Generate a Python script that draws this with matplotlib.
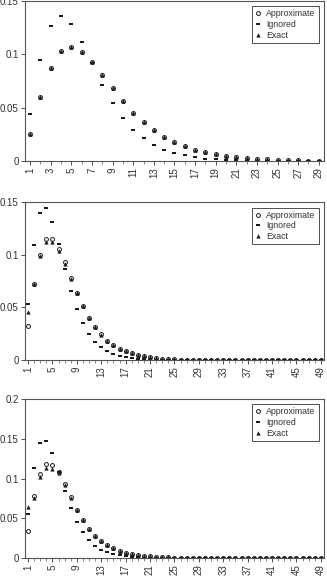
import numpy as np
import matplotlib.pyplot as plt
from matplotlib.path import Path

plt.rcParams['font.family'] = ['Liberation Sans', 'DejaVu Sans']

# panel 1 (n = 29)
x1 = list(range(1, 30))
approx1 = [0.0255, 0.0596, 0.0873, 0.1031, 0.1071, 0.1025, 0.0929, 0.0807, 0.0680, 0.0562,
           0.0453, 0.0363, 0.0289, 0.0227, 0.0177, 0.0140, 0.0106, 0.0081, 0.0062, 0.0050,
           0.0037, 0.0028, 0.0020, 0.0015, 0.0011, 0.0008, 0.0006, 0.0004, 0.0003]
ignored1 = [0.0440, 0.0944, 0.1267, 0.1360, 0.1283, 0.1115, 0.0916, 0.0714, 0.0543, 0.0404,
            0.0292, 0.0211, 0.0149, 0.0102, 0.0075, 0.0053, 0.0034, 0.0022, 0.0015, 0.0010,
            0.0006, 0.0004, 0.0002, 0.0001, 0.0001, 0.0, 0.0, 0.0, 0.0]
exact1 = [0.0255, 0.0596, 0.0873, 0.1031, 0.1071, 0.1025, 0.0925, 0.0807, 0.0680, 0.0562,
          0.0453, 0.0363, 0.0289, 0.0227, 0.0177, 0.0140, 0.0106, 0.0081, 0.0062, 0.0050,
          0.0037, 0.0028, 0.0020, 0.0015, 0.0011, 0.0008, 0.0006, 0.0004, 0.0003]

# panel 2 (n = 49)
x2 = list(range(1, 50))
approx2 = [0.0323, 0.0722, 0.1003, 0.1149, 0.1149, 0.1060, 0.0937, 0.0782, 0.0639, 0.0513,
           0.0402, 0.0313, 0.0244, 0.0184, 0.0142, 0.0108, 0.0082, 0.0063, 0.0047, 0.0035,
           0.0025, 0.0018, 0.0013, 0.0010, 0.0007, 0.0005, 0.0004, 0.0003, 0.0002, 0.0002,
           0.0001, 0.0001, 0.0001, 0.0, 0.0, 0.0, 0.0, 0.0, 0.0, 0.0,
           0.0, 0.0, 0.0, 0.0, 0.0, 0.0, 0.0, 0.0, 0.0]
ignored2 = [0.0532, 0.1090, 0.1400, 0.1450, 0.1313, 0.1100, 0.0867, 0.0658, 0.0487, 0.0348,
            0.0247, 0.0171, 0.0120, 0.0082, 0.0057, 0.0041, 0.0028, 0.0019, 0.0013, 0.0008,
            0.0005, 0.0003, 0.0002, 0.0001, 0.0001, 0.0, 0.0, 0.0, 0.0, 0.0,
            0.0, 0.0, 0.0, 0.0, 0.0, 0.0, 0.0, 0.0, 0.0, 0.0,
            0.0, 0.0, 0.0, 0.0, 0.0, 0.0, 0.0, 0.0, 0.0]
exact2 = [0.0456, 0.0722, 0.0985, 0.1120, 0.1123, 0.1038, 0.0918, 0.0769, 0.0635, 0.0510,
          0.0400, 0.0312, 0.0243, 0.0184, 0.0142, 0.0108, 0.0082, 0.0063, 0.0047, 0.0035,
          0.0025, 0.0018, 0.0013, 0.0010, 0.0007, 0.0005, 0.0004, 0.0003, 0.0002, 0.0002,
          0.0001, 0.0001, 0.0001, 0.0, 0.0, 0.0, 0.0, 0.0, 0.0, 0.0,
          0.0, 0.0, 0.0, 0.0, 0.0, 0.0, 0.0, 0.0, 0.0]

# panel 3 (n = 49)
x3 = list(range(1, 50))
approx3 = [0.0346, 0.0780, 0.1060, 0.1188, 0.1175, 0.1083, 0.0929, 0.0763, 0.0608, 0.0479,
           0.0371, 0.0283, 0.0212, 0.0163, 0.0121, 0.0092, 0.0067, 0.0050, 0.0037, 0.0027,
           0.0020, 0.0015, 0.0011, 0.0008, 0.0006, 0.0004, 0.0003, 0.0002, 0.0002, 0.0001,
           0.0001, 0.0001, 0.0, 0.0, 0.0, 0.0, 0.0, 0.0, 0.0, 0.0,
           0.0, 0.0, 0.0, 0.0, 0.0, 0.0, 0.0, 0.0, 0.0]
ignored3 = [0.0558, 0.1138, 0.1446, 0.1470, 0.1317, 0.1080, 0.0842, 0.0629, 0.0458, 0.0325,
            0.0225, 0.0154, 0.0100, 0.0071, 0.0046, 0.0033, 0.0021, 0.0013, 0.0008, 0.0005,
            0.0003, 0.0002, 0.0001, 0.0001, 0.0, 0.0, 0.0, 0.0, 0.0, 0.0,
            0.0, 0.0, 0.0, 0.0, 0.0, 0.0, 0.0, 0.0, 0.0, 0.0,
            0.0, 0.0, 0.0, 0.0, 0.0, 0.0, 0.0, 0.0, 0.0]
exact3 = [0.0646, 0.0758, 0.1020, 0.1138, 0.1125, 0.1067, 0.0917, 0.0750, 0.0600, 0.0475,
          0.0369, 0.0282, 0.0211, 0.0162, 0.0121, 0.0092, 0.0067, 0.0050, 0.0037, 0.0027,
          0.0020, 0.0015, 0.0011, 0.0008, 0.0006, 0.0004, 0.0003, 0.0002, 0.0002, 0.0001,
          0.0001, 0.0001, 0.0, 0.0, 0.0, 0.0, 0.0, 0.0, 0.0, 0.0,
          0.0, 0.0, 0.0, 0.0, 0.0, 0.0, 0.0, 0.0, 0.0]

panels = [
    (x1, approx1, ignored1, exact1, 0.15, [0, 0.05, 0.1, 0.15], list(range(1, 30, 2))),
    (x2, approx2, ignored2, exact2, 0.15, [0, 0.05, 0.1, 0.15], list(range(1, 50, 4))),
    (x3, approx3, ignored3, exact3, 0.2, [0, 0.05, 0.1, 0.15, 0.2], list(range(1, 50, 4))),
]
boxes = [
    [0.0765, 0.7215, 0.914, 0.277],
    [0.0765, 0.377, 0.914, 0.273],
    [0.0765, 0.0346, 0.914, 0.275],
]

# flat rectangle marker for "Ignored"
rect = Path([(-1, -0.55), (1, -0.55), (1, 0.55), (-1, 0.55), (-1, -0.55)],
            [Path.MOVETO, Path.LINETO, Path.LINETO, Path.LINETO, Path.CLOSEPOLY])

mk = '#1a1a1a'
fig = plt.figure(figsize=(3.27, 5.78), dpi=100)
for (xs, ap, ig, ex, ymax, yt, xt), box in zip(panels, boxes):
    ax = fig.add_axes(box)
    ax.plot(xs, ap, linestyle='none', marker='o', ms=2.8, mfc='white', mec=mk, mew=0.7,
            label='Approximate')
    ax.plot(xs, ig, linestyle='none', marker=rect, ms=2.8, mfc=mk, mec=mk, mew=0,
            label='Ignored')
    ax.plot(xs, ex, linestyle='none', marker='^', ms=2.6, mfc=mk, mec=mk, mew=0.3,
            label='Exact')
    ax.set_xlim(0.5, len(xs) + 0.5)
    ax.set_ylim(0, ymax)
    ax.set_yticks(yt)
    ax.set_yticklabels([('%g' % v) for v in yt])
    ax.set_xticks(xt)
    ax.set_xticklabels([str(v) for v in xt], rotation=90)
    ax.set_xticks(xs, minor=True)
    ax.tick_params(axis='both', labelsize=7, colors='#333333', length=3, width=0.6,
                   direction='out', pad=1.5)
    ax.tick_params(axis='x', which='minor', length=2, width=0.5, colors='#555555')
    for s in ax.spines.values():
        s.set_color('#555555')
        s.set_linewidth(0.8)
    leg = ax.legend(loc='upper right', fontsize=6.3, frameon=True, fancybox=False,
                    edgecolor='#222222', handlelength=0.8, handletextpad=0.5,
                    borderpad=0.35, labelspacing=0.2, borderaxespad=0.6)
    leg.get_frame().set_linewidth(0.7)
    for t in leg.get_texts():
        t.set_color('#333333')

fig.savefig('out.png', dpi=100)
